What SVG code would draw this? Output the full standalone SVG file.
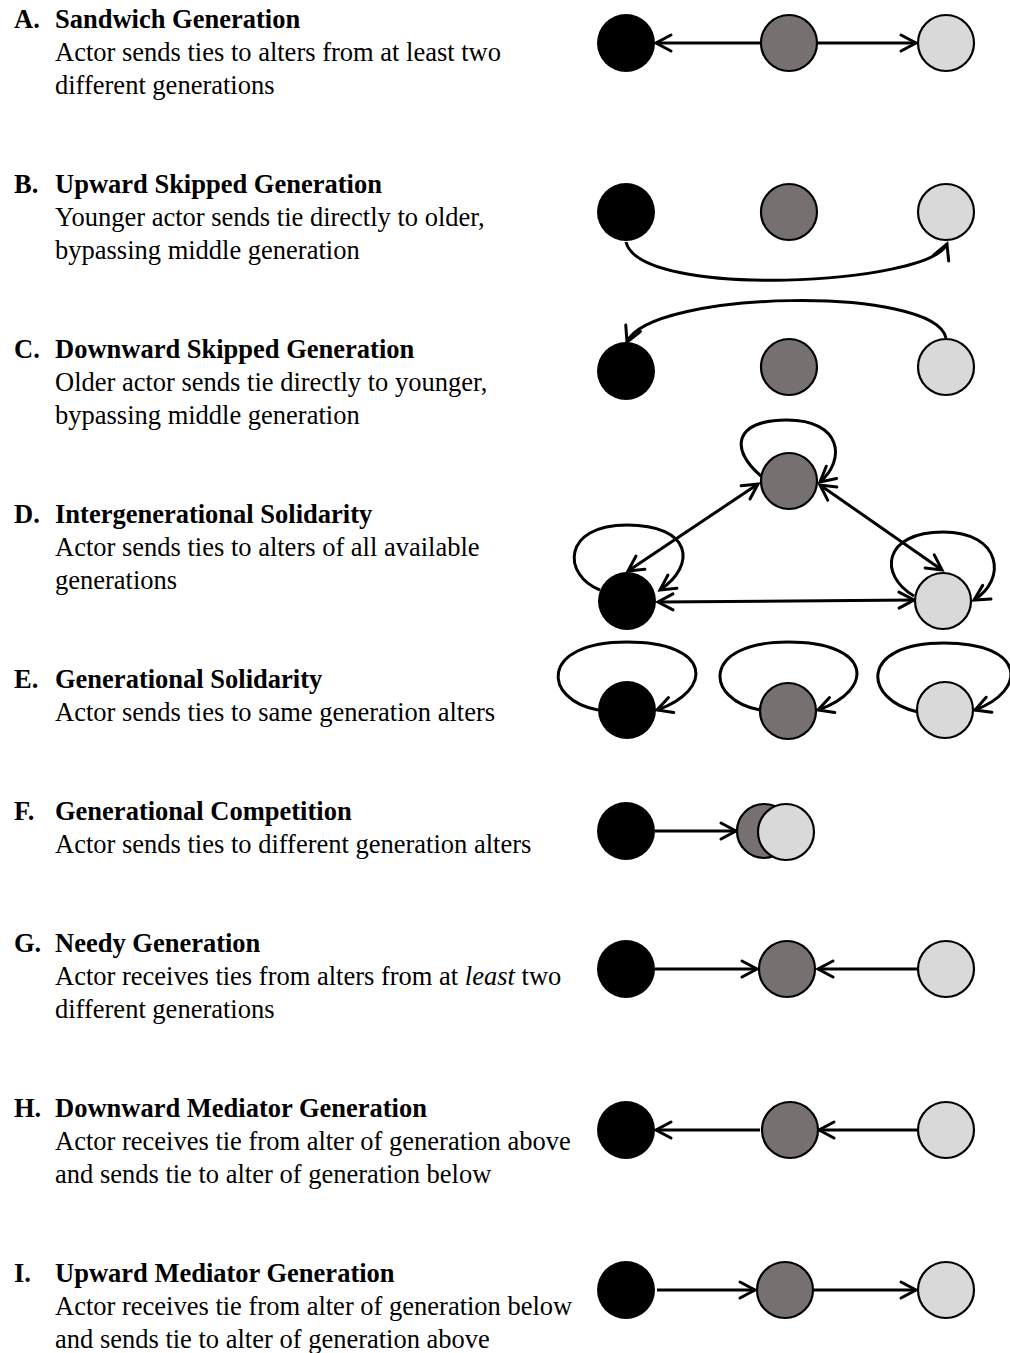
<svg xmlns="http://www.w3.org/2000/svg" width="1010" height="1353" viewBox="0 0 1010 1353">
<defs>
<marker id="arr" viewBox="-18 -11 22 22" refX="0" refY="0" markerWidth="22" markerHeight="22" orient="auto-start-reverse" markerUnits="userSpaceOnUse">
<path d="M-15,-8 L0,0 L-15,8" fill="none" stroke="#000" stroke-width="3" stroke-linecap="round" stroke-linejoin="miter"/>
</marker>
<style>
.t{font-family:"Liberation Serif","Times New Roman",serif;font-size:26.5px;fill:#000}
.b{font-weight:bold}
.n{stroke:#000;stroke-width:2.2}
.k{fill:#000}
.g{fill:#767170}
.l{fill:#d9d9d9}
.ea{fill:none;stroke:#000;stroke-width:3;marker-end:url(#arr)}
.eb{fill:none;stroke:#000;stroke-width:3;marker-end:url(#arr);marker-start:url(#arr)}
</style>
</defs>
<rect width="1010" height="1353" fill="#fff"/>

<g id="labels">
<g id="label-A"><text class="t b" x="14" y="28">A.</text><text class="t b" x="55" y="28">Sandwich Generation</text><text class="t" x="55" y="61">Actor sends ties to alters from at least two</text><text class="t" x="55" y="94">different generations</text></g>
<g id="label-B"><text class="t b" x="14" y="193">B.</text><text class="t b" x="55" y="193">Upward Skipped Generation</text><text class="t" x="55" y="226">Younger actor sends tie directly to older,</text><text class="t" x="55" y="259">bypassing middle generation</text></g>
<g id="label-C"><text class="t b" x="14" y="358">C.</text><text class="t b" x="55" y="358">Downward Skipped Generation</text><text class="t" x="55" y="391">Older actor sends tie directly to younger,</text><text class="t" x="55" y="424">bypassing middle generation</text></g>
<g id="label-D"><text class="t b" x="14" y="523">D.</text><text class="t b" x="55" y="523">Intergenerational Solidarity</text><text class="t" x="55" y="556">Actor sends ties to alters of all available</text><text class="t" x="55" y="589">generations</text></g>
<g id="label-E"><text class="t b" x="14" y="688">E.</text><text class="t b" x="55" y="688">Generational Solidarity</text><text class="t" x="55" y="721">Actor sends ties to same generation alters</text></g>
<g id="label-F"><text class="t b" x="14" y="820">F.</text><text class="t b" x="55" y="820">Generational Competition</text><text class="t" x="55" y="853">Actor sends ties to different generation alters</text></g>
<g id="label-G"><text class="t b" x="14" y="952">G.</text><text class="t b" x="55" y="952">Needy Generation</text><text class="t" x="55" y="985">Actor receives ties from alters from at <tspan font-style="italic">least</tspan> two</text><text class="t" x="55" y="1018">different generations</text></g>
<g id="label-H"><text class="t b" x="14" y="1117">H.</text><text class="t b" x="55" y="1117">Downward Mediator Generation</text><text class="t" x="55" y="1150">Actor receives tie from alter of generation above</text><text class="t" x="55" y="1183">and sends tie to alter of generation below</text></g>
<g id="label-I"><text class="t b" x="14" y="1282">I.</text><text class="t b" x="55" y="1282">Upward Mediator Generation</text><text class="t" x="55" y="1315">Actor receives tie from alter of generation below</text><text class="t" x="55" y="1348">and sends tie to alter of generation above</text></g>
</g>

<g id="connectors">
<!-- A -->
<line class="ea" x1="760" y1="43" x2="656" y2="43"/>
<line class="ea" x1="817" y1="43" x2="916" y2="43"/>
<!-- B -->
<path class="ea" d="M626,242 C640,300 930,285 947,244"/>
<!-- C -->
<path class="ea" d="M946,338 C935,285 650,290 627,342"/>
<!-- D -->
<line class="eb" x1="628" y1="571" x2="758" y2="484"/>
<line class="eb" x1="820" y1="485" x2="942" y2="570"/>
<line class="eb" x1="658" y1="602" x2="914" y2="600"/>
<path class="ea" d="M761,476 C730,450 733,420 787,420 C842,420 846,460 820,482"/>
<path class="ea" d="M600,590 C562,575 562,525 627,525 C692,525 697,565 660,590"/>
<path class="ea" d="M914,596 C878,575 883,532 943,532 C1002,532 1007,580 974,600"/>
<!-- E -->
<path class="ea" d="M598,710 C543,700 538,642 627,642 C712,642 714,690 657,710"/>
<path class="ea" d="M760,710 C705,700 700,642 788,642 C873,642 875,690 818,710"/>
<path class="ea" d="M918,712 C863,700 858,643 944,643 C1026,643 1028,690 975,710"/>
<!-- F -->
<line class="ea" x1="655" y1="831" x2="736" y2="831"/>
<!-- G -->
<line class="ea" x1="655" y1="969" x2="757" y2="969"/>
<line class="ea" x1="918" y1="969" x2="818" y2="969"/>
<!-- H -->
<line class="ea" x1="760" y1="1130" x2="656" y2="1130"/>
<line class="ea" x1="918" y1="1130" x2="819" y2="1130"/>
<!-- I -->
<line class="ea" x1="657" y1="1290" x2="755" y2="1290"/>
<line class="ea" x1="814" y1="1290" x2="916" y2="1290"/>
</g>

<g id="nodes">
<g id="A-nodes"><circle class="k" cx="626" cy="43" r="29"/><circle class="n g" cx="789" cy="43" r="28"/><circle class="n l" cx="946" cy="43" r="28"/></g>
<g id="B-nodes"><circle class="k" cx="626" cy="212" r="29"/><circle class="n g" cx="789" cy="212" r="28"/><circle class="n l" cx="946" cy="212" r="28"/></g>
<g id="C-nodes"><circle class="k" cx="626" cy="371" r="29"/><circle class="n g" cx="789" cy="367" r="28"/><circle class="n l" cx="946" cy="367" r="28"/></g>
<g id="D-nodes"><circle class="n g" cx="789" cy="481" r="28"/><circle class="k" cx="627" cy="601" r="29"/><circle class="n l" cx="943" cy="601" r="28"/></g>
<g id="E-nodes"><circle class="k" cx="627" cy="710" r="29"/><circle class="n g" cx="788" cy="711" r="28"/><circle class="n l" cx="945" cy="710" r="28"/></g>
<g id="F-nodes"><circle class="k" cx="626" cy="831" r="29"/><circle class="n g" cx="764" cy="831" r="27"/><circle class="n l" cx="786" cy="832" r="28"/></g>
<g id="G-nodes"><circle class="k" cx="626" cy="969" r="29"/><circle class="n g" cx="787" cy="969" r="28"/><circle class="n l" cx="946" cy="969" r="28"/></g>
<g id="H-nodes"><circle class="k" cx="626" cy="1130" r="29"/><circle class="n g" cx="790" cy="1130" r="28"/><circle class="n l" cx="946" cy="1130" r="28"/></g>
<g id="I-nodes"><circle class="k" cx="626" cy="1290" r="29"/><circle class="n g" cx="785" cy="1290" r="28"/><circle class="n l" cx="946" cy="1290" r="28"/></g>
</g>
</svg>
